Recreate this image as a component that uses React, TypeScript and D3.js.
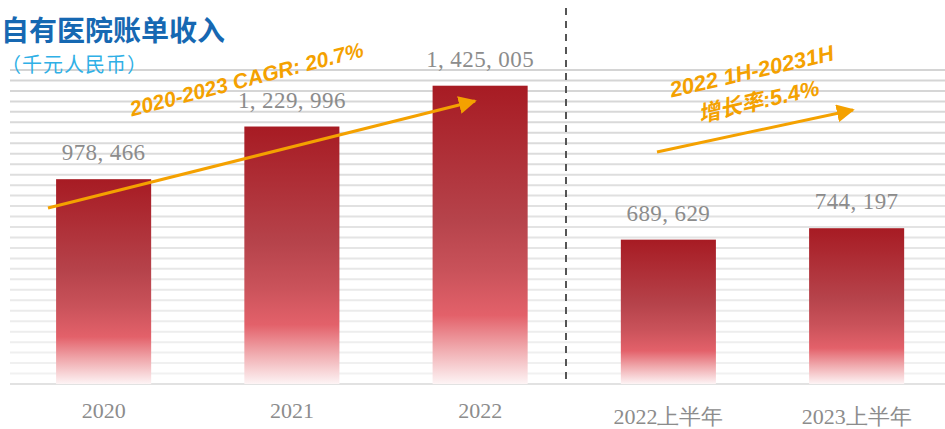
import React from "react";
import * as d3 from "d3";

const categories = ["2020", "2021", "2022", "2022上半年", "2023上半年"];
const revenue = [978466, 1229996, 1425005, 689629, 744197];
const yMax = 1500000;
const gridStep = 50000;

const title = "自有医院账单收入";
const unitLabel = "（千元人民币）";
const cagrLabel = "2020-2023 CAGR: 20.7%";
const halfLabel1 = "2022 1H-20231H";
const halfLabel2 = "增长率:5.4%";

const W = 945;
const H = 429;
const baseY = 384;
const orange = "#f4a100";
const serif = "'Liberation Serif', 'DejaVu Serif', serif";
const sans = "'Liberation Sans', Arial, 'Noto Sans CJK SC', sans-serif";

export default function App() {
  const x = d3.scaleBand<string>().domain(categories).range([9.5, 950.75]).paddingInner(0.495).paddingOuter(0.2475);
  const y = d3.scaleLinear().domain([0, yMax]).range([baseY, 70]);
  const gridVals = d3.range(gridStep, yMax + 1, gridStep);
  const gridColor = d3.scaleLinear<string>().domain([70, baseY]).range(["#d4d4d4", "#f2f2f2"]);
  const fmt = (v: number) => d3.format(",")(v).replace(/,/g, ", ");

  return (
    <svg width={W} height={H} style={{ position: "absolute", left: 0, top: 0, background: "#fff" }}>
      <defs>
        <linearGradient id="barGrad" x1="0" y1="0" x2="0" y2="1">
          <stop offset="0" stopColor="#a71b23" />
          <stop offset="0.45" stopColor="#b6434b" />
          <stop offset="0.62" stopColor="#c9525a" />
          <stop offset="0.77" stopColor="#e3616a" />
          <stop offset="0.88" stopColor="#f0a9ad" />
          <stop offset="1" stopColor="#fdf4f5" />
        </linearGradient>
        <marker id="arrowHead" viewBox="0 0 10 10" refX="9" refY="5" markerWidth="6" markerHeight="6" orient="auto" markerUnits="strokeWidth">
          <path d="M0,0 L10,5 L0,10 Z" fill={orange} />
        </marker>
      </defs>

      {/* grid lines */}
      {gridVals.map((v) => (
        <line key={v} x1={10} x2={W} y1={y(v)} y2={y(v)} stroke={gridColor(y(v))} strokeWidth={2} />
      ))}
      <line x1={10} x2={W} y1={baseY} y2={baseY} stroke="#e2e2e2" strokeWidth={2} />

      {/* bars */}
      {categories.map((c, i) => (
        <g key={c}>
          <rect x={x(c)} y={y(revenue[i])} width={x.bandwidth()} height={baseY - y(revenue[i])} fill="url(#barGrad)" />
          <text
            x={(x(c) ?? 0) + x.bandwidth() / 2}
            y={y(revenue[i]) - 19}
            textAnchor="middle"
            fontFamily={serif}
            fontSize={23}
            letterSpacing={0.4}
            fill="#8c8c8c"
          >
            {fmt(revenue[i])}
          </text>
          <text
            x={(x(c) ?? 0) + x.bandwidth() / 2}
            y={i < 3 ? 418 : 424}
            textAnchor="middle"
            fontFamily={serif}
            fontSize={22}
            fill="#8c8c8c"
          >
            {c}
          </text>
        </g>
      ))}

      {/* divider */}
      <line x1={566} x2={566} y1={8} y2={380} stroke="#555" strokeWidth={2} strokeDasharray="7,6" />

      {/* title */}
      <text x={1} y={41} fontFamily="'Noto Sans CJK SC', sans-serif" fontWeight="bold" fontSize={28} fill="#1668b2">
        {title}
      </text>
      <text x={1} y={72} fontFamily="'Noto Sans CJK SC', sans-serif" fontSize={20} letterSpacing={1} fill="#2fb0e6">
        {unitLabel}
      </text>

      {/* CAGR annotation */}
      <line x1={48} y1={208} x2={475} y2={101} stroke={orange} strokeWidth={3} markerEnd="url(#arrowHead)" />
      <text
        transform="translate(247,81) rotate(-14.5)"
        textAnchor="middle"
        fontFamily={sans}
        fontWeight="bold"
        fontStyle="italic"
        fontSize={21}
        fill={orange}
        dominantBaseline="middle"
      >
        {cagrLabel}
      </text>

      {/* half-year annotation */}
      <line x1={657} y1={152} x2={853} y2={110} stroke={orange} strokeWidth={3} markerEnd="url(#arrowHead)" />
      <text
        transform="translate(752,73) rotate(-13)"
        textAnchor="middle"
        fontFamily={sans}
        fontWeight="bold"
        fontStyle="italic"
        fontSize={22}
        fill={orange}
        dominantBaseline="middle"
      >
        {halfLabel1}
      </text>
      <text
        transform="translate(759,103) rotate(-13)"
        textAnchor="middle"
        fontFamily={sans}
        fontWeight="bold"
        fontStyle="italic"
        fontSize={22}
        fill={orange}
        dominantBaseline="middle"
      >
        {halfLabel2}
      </text>
    </svg>
  );
}
